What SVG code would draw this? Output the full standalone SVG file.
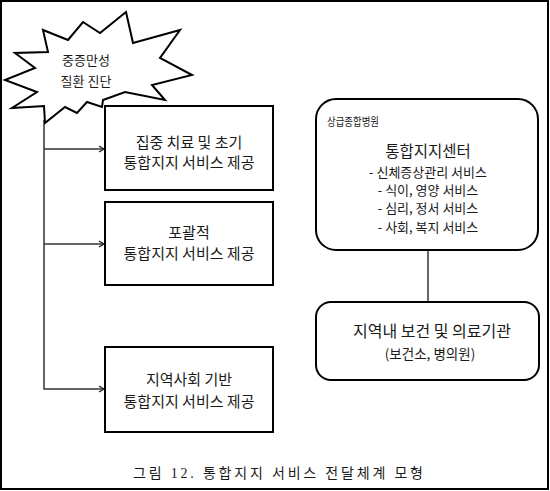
<svg xmlns="http://www.w3.org/2000/svg" width="550" height="491" viewBox="0 0 550 491">
<style>
text{font-family:"Noto Sans CJK KR","Noto Sans",sans-serif;fill:#1a1a1a;text-anchor:middle}
.box{fill:#fff;stroke:#000;stroke-width:2}
.conn{fill:none;stroke:#333;stroke-width:1.5}
.t16{font-size:16px}
.t15{font-size:15px}
.t13{font-size:13px}
.t11{font-size:11px}
</style>
<defs>
<marker id="arr" markerWidth="8" markerHeight="8" refX="6" refY="4" orient="auto" markerUnits="userSpaceOnUse">
<path d="M1,1 L6,4 L1,7" fill="none" stroke="#222" stroke-width="1.3"/>
</marker>
</defs>
<rect x="1" y="1" width="547" height="488" fill="#fff" stroke="#000" stroke-width="2"/>
<g id="connectors">
<path class="conn" d="M44,120 V389 H104" marker-end="url(#arr)"/>
<path class="conn" d="M44,149 H104" marker-end="url(#arr)"/>
<path class="conn" d="M44,244 H104" marker-end="url(#arr)"/>
<path class="conn" d="M428,250 V302"/>
</g>
<g id="star">
<polygon points="126,12 133,43 180,30 160,58 192,75 152,85 165,100 125,92 103,100 102,107 87,102 77,113 65,107 45,123 44,106 12,108 37,92 5,80 35,68 15,53 48,52 43,30 68,40 83,22 100,33" fill="#fff" stroke="#000" stroke-width="2" stroke-linejoin="miter"/>
<text class="t13" x="86" y="65">중증만성</text>
<text class="t13" x="86" y="86">질환 진단</text>
</g>
<g id="box1">
<rect class="box" x="105" y="106" width="168" height="84"/>
<text class="t15" x="189" y="148">집중 치료 및 초기</text>
<text class="t15" x="189" y="168">통합지지 서비스 제공</text>
</g>
<g id="box2">
<rect class="box" x="105" y="202" width="168" height="83"/>
<text class="t15" x="189" y="238">포괄적</text>
<text class="t15" x="189" y="259">통합지지 서비스 제공</text>
</g>
<g id="box3">
<rect class="box" x="105" y="347" width="168" height="85"/>
<text class="t15" x="189" y="385">지역사회 기반</text>
<text class="t15" x="189" y="407">통합지지 서비스 제공</text>
</g>
<g id="center">
<rect class="box" x="316" y="99" width="222" height="151" rx="20"/>
<text class="t11" x="327" y="126" textLength="52" lengthAdjust="spacingAndGlyphs" style="text-anchor:start">상급종합병원</text>
<text class="t15" x="428" y="157" style="font-size:15.5px">통합지지센터</text>
<text class="t13" x="428" y="177">- 신체증상관리 서비스</text>
<text class="t13" x="428" y="195">- 식이, 영양 서비스</text>
<text class="t13" x="428" y="213">- 심리, 정서 서비스</text>
<text class="t13" x="428" y="232">- 사회, 복지 서비스</text>
</g>
<g id="local">
<rect class="box" x="316" y="302" width="223" height="78" rx="15"/>
<text class="t16" x="432" y="337">지역내 보건 및 의료기관</text>
<text x="430" y="359" style="font-size:13.5px">(보건소, 병의원)</text>
</g>
<g id="caption">
<text x="278" y="478" textLength="290" lengthAdjust="spacing" style="font-family:'Liberation Serif','Noto Sans CJK KR',serif;font-size:14px">그림 12. 통합지지 서비스 전달체계 모형</text>
</g>
</svg>
